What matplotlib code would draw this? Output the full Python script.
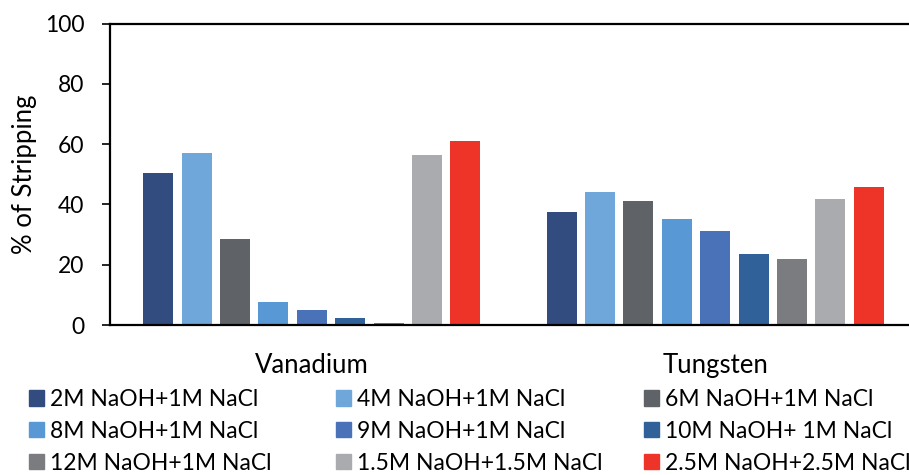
import numpy as np
import matplotlib
matplotlib.use('Agg')
import matplotlib.pyplot as plt
from matplotlib.patches import Patch

plt.rcParams['font.family'] = ['Lato', 'DejaVu Sans']

# dane
metals = ['Vanadium', 'Tungsten']
solutions = ['2M NaOH+1M NaCl', '4M NaOH+1M NaCl', '6M NaOH+1M NaCl',
             '8M NaOH+1M NaCl', '9M NaOH+1M NaCl', '10M NaOH+ 1M NaCl',
             '12M NaOH+1M NaCl', '1.5M NaOH+1.5M NaCl', '2.5M NaOH+2.5M NaCl']
vanadium = [50.3, 57.2, 28.4, 7.7, 5.0, 2.2, 0.5, 56.4, 61.1]
tungsten = [37.6, 44.0, 41.1, 35.3, 31.2, 23.5, 21.8, 41.7, 45.9]
colors = ['#334C80', '#6FA7DB', '#5F6367', '#5898D4', '#4A72B8',
          '#306299', '#7A7C80', '#A9ABAF', '#EE3329']

W, H = 909, 475
fig = plt.figure(figsize=(W / 100, H / 100), dpi=100)
# os wychodzi poza prawa krawedz obrazka (jak w oryginale)
ax = fig.add_axes([110 / W, (H - 325) / H, 807 / W, 301.5 / H])

x = np.arange(len(metals))
step = 0.0952
width = 0.0744
for i, sol in enumerate(solutions):
    vals = [vanadium[i], tungsten[i]]
    ax.bar(x + (i - 4) * step, vals, width, color=colors[i], label=sol)

ax.set_xlim(-0.5, 1.5)
ax.set_ylim(0, 100)
ax.set_yticks([0, 20, 40, 60, 80, 100])
ax.set_xticks(x)
ax.set_xticklabels(metals, fontsize=18.5)
ax.tick_params(axis='x', length=0, pad=20)
ax.tick_params(axis='y', labelsize=16.5, length=5.8, width=1.2, pad=12.5)
ax.set_ylabel('% of Stripping', fontsize=18.5)
ax.yaxis.set_label_coords(-73 / 807, 0.5)
for s in ['left', 'top', 'bottom']:
    ax.spines[s].set_linewidth(1.6)
ax.spines['right'].set_visible(False)

# legenda - trzy kolumny rysowane osobno
col_x = [29 / W, 336 / W, 644 / W]
for c in range(3):
    handles = [Patch(color=colors[c + 3 * r], label=solutions[c + 3 * r]) for r in range(3)]
    fig.legend(handles=handles, loc='upper left', bbox_to_anchor=(col_x[c], 1 - 389 / H),
               frameon=False, fontsize=16.5, borderpad=0, borderaxespad=0,
               handlelength=0.65, handleheight=0.65, handletextpad=0.25,
               labelspacing=0.47)

fig.savefig('out.png', dpi=100)
